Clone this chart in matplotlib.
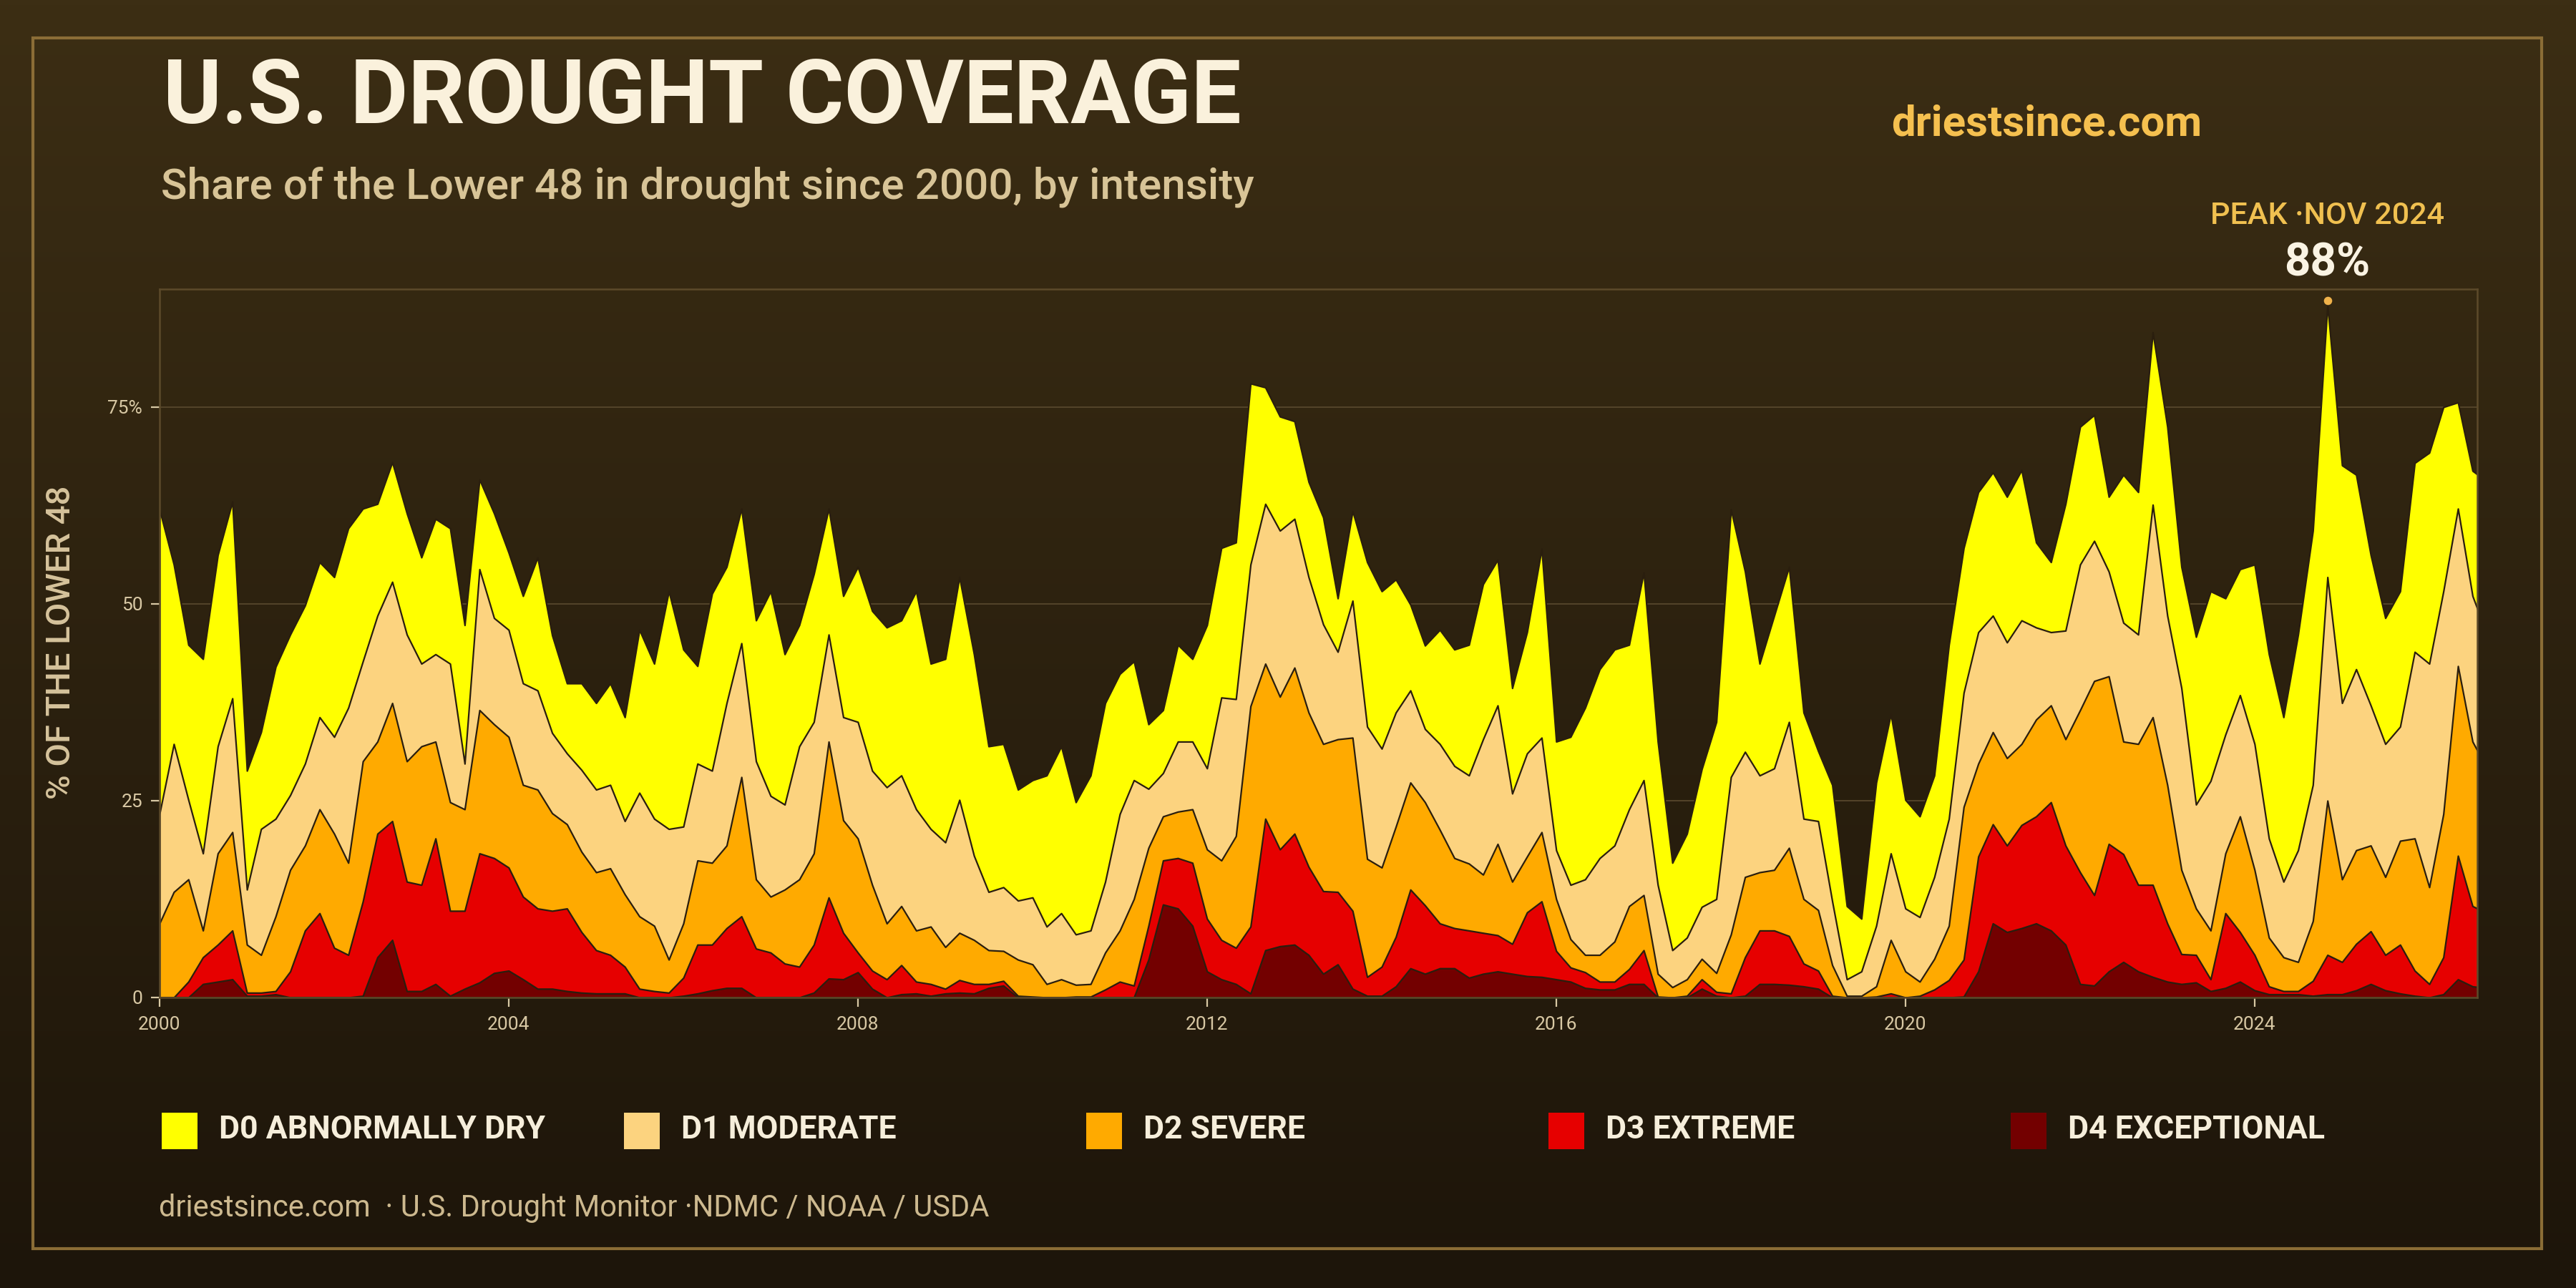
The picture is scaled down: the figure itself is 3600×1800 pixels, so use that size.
import numpy as np
import pandas as pd
import matplotlib
matplotlib.use("Agg")
import matplotlib.pyplot as plt
import matplotlib.dates as mdates
import matplotlib.transforms as mtransforms
from matplotlib.colors import LinearSegmentedColormap
from matplotlib.patches import Rectangle

plt.rcParams['font.family'] = ['Roboto', 'DejaVu Sans']

# ============================================
# data: share of Lower 48 (cumulative, % area), every 2 months from Jan 2000
# ============================================
dates = pd.date_range("2000-01-01", periods=161, freq="2MS")

d0_d4 = [
    62, 55, 44.8, 43.0, 56.2, 63,          # 2000
    28.8, 33.7, 42, 46.1, 49.8, 55.3,      # 2001
    53.4, 59.6, 62.1, 62.7, 68, 61.5,      # 2002
    55.9, 60.8, 59.6, 47.3, 65.8, 61.5,    # 2003
    56.5, 51, 55.9, 46, 39.9, 39.9,        # 2004
    37.4, 39.9, 35.6, 46.7, 42.4, 51.6,    # 2005
    44.2, 42.1, 51.3, 54.7, 62.1, 47.9,    # 2006
    51.6, 43.6, 47.3, 53.8, 62.1, 51.0,    # 2007
    54.7, 49.1, 47.0, 47.9, 51.6, 42.4,    # 2008
    43, 53.4, 43.6, 31.9, 32.2, 26.4,      # 2009
    27.6, 28.2, 31.9, 24.8, 28.2, 37.4,    # 2010
    41.1, 42.7, 34.7, 36.5, 44.8, 43.0,    # 2011
    47.3, 57.1, 57.8, 78, 77.5, 73.8,      # 2012
    73.2, 65.5, 61, 50.7, 61.8, 55.3,      # 2013
    51.6, 53.1, 49.9, 44.7, 46.7, 44.2,    # 2014
    44.8, 52.5, 55.6, 39.3, 46.4, 57,      # 2015
    32.5, 33.1, 36.8, 41.7, 44.2, 44.8,    # 2016
    54, 32.5, 17.1, 20.8, 29, 35,          # 2017
    62, 54.1, 42.4, 48.5, 54.7, 36.2,      # 2018
    31.3, 27.0, 11.6, 10.0, 27.3, 36,      # 2019
    25.1, 23.0, 28.2, 44.8, 57.1, 64.2,    # 2020
    66.7, 63.6, 67.0, 57.8, 55.3, 62.7,    # 2021
    72.5, 74, 63.6, 66.4, 64.2, 84.5,      # 2022
    72.5, 54.7, 45.8, 51.6, 50.7, 54.4,    # 2023
    55.0, 43.6, 35.6, 46.1, 59.3, 88,      # 2024
    67.6, 66.4, 56.2, 48.2, 51.6, 67.9,    # 2025
    69.2, 75.0, 75.6, 66.9, 65.5,          # 2026
]

d1_d4 = [
    23.3, 32.2, 25.1, 18.3, 31.9, 38,
    13.7, 21.4, 22.7, 25.7, 29.7, 35.6,
    33.1, 36.8, 42.7, 48.5, 52.8, 46.1,
    42.4, 43.6, 42.4, 29.7, 54.4, 48.2,
    46.7, 39.9, 39.0, 33.6, 31.0, 28.9,
    26.4, 27.0, 22.4, 26.0, 22.7, 21.4,
    21.7, 29.7, 28.8, 37.4, 45, 30.0,
    25.6, 24.5, 31.9, 35.0, 46.1, 35.6,
    35.0, 28.8, 26.7, 28.2, 23.9, 21.4,
    19.7, 25.1, 18.0, 13.4, 14.0, 12.3,
    12.7, 9.0, 10.7, 8.0, 8.5, 14.7,
    23.3, 27.6, 26.5, 28.5, 32.5, 32.5,
    29.1, 38.1, 37.9, 55, 62.7, 59.3,
    60.8, 53.4, 47.4, 43.9, 50.4, 34.4,
    31.6, 36.2, 39.0, 34.1, 32.2, 29.4,
    28.2, 32.8, 37.1, 25.9, 31.0, 33,
    18.7, 14.3, 15.0, 17.7, 19.3, 23.9,
    27.6, 14.3, 6.0, 7.6, 11.5, 12.5,
    28, 31.2, 28.2, 29.1, 35.0, 22.7,
    22.4, 12.2, 2.3, 3.3, 9.1, 18.3,
    11.3, 10.2, 15.3, 22.7, 38.7, 46.4,
    48.5, 45.1, 47.9, 47.0, 46.4, 46.6,
    55.0, 58, 54.1, 47.6, 46.1, 62.6,
    48.5, 39.3, 24.5, 27.5, 33.4, 38.4,
    32.2, 20.2, 14.7, 18.7, 27.0, 53.4,
    37.4, 41.7, 37.1, 32.2, 34.4, 43.9,
    42.4, 51.6, 62.1, 51.0, 46,
]

d2_d4 = [
    9.4, 13.4, 15.0, 8.5, 18.3, 21,
    6.7, 5.4, 10.3, 16.2, 19.3, 23.9,
    20.8, 17.1, 30.0, 32.5, 37.4, 30.0,
    31.9, 32.5, 24.8, 23.9, 36.5, 34.7,
    33.1, 27.0, 26.4, 23.4, 22.0, 18.5,
    15.9, 16.4, 13.1, 10.3, 9.1, 4.8,
    9.4, 17.4, 17.1, 19.3, 28, 15.0,
    12.8, 13.7, 15.0, 18.3, 32.5, 22.5,
    20.2, 14.3, 9.4, 11.6, 8.5, 9.0,
    6.4, 8.2, 7.3, 6.0, 5.9, 4.8,
    4.2, 1.7, 2.3, 1.6, 1.7, 5.7,
    8.5, 12.5, 19.0, 23.0, 23.6, 23.9,
    18.8, 17.4, 20.5, 37, 42.4, 38.2,
    41.9, 36.2, 32.2, 32.8, 33.0, 17.6,
    16.5, 21.7, 27.3, 24.8, 21.3, 17.7,
    17.0, 15.6, 19.5, 14.7, 17.9, 21,
    12.5, 7.4, 5.4, 5.4, 7.1, 11.6,
    13, 3.0, 1.3, 2.3, 4.9, 3.1,
    8, 15.3, 15.9, 16.2, 19.0, 12.5,
    11.1, 4.1, 0.2, 0.2, 1.4, 7.3,
    3.3, 2.0, 4.9, 9.1, 24.2, 29.7,
    33.7, 30.4, 32.2, 35.3, 37.1, 32.8,
    36.5, 40.2, 40.8, 32.5, 32.2, 35.6,
    27.0, 16.2, 11.3, 8.5, 18.3, 23.0,
    16.2, 7.6, 5.1, 4.5, 9.7, 25,
    15.0, 18.7, 19.3, 15.3, 19.9, 20.2,
    14.0, 23.3, 42.1, 32.5, 29,
]

d3_d4 = [
    0, 0, 2.0, 5.1, 6.7, 8.5,
    0.6, 0.6, 0.8, 3.3, 8.5, 10.7,
    6.3, 5.4, 12.2, 20.8, 22.4, 14.7,
    14.3, 20.2, 11.0, 11.0, 18.3, 17.7,
    16.5, 12.8, 11.3, 11.0, 11.3, 8.3,
    6.0, 5.4, 3.9, 1.1, 0.8, 0.6,
    2.5, 6.7, 6.7, 8.8, 10.3, 6.2,
    5.7, 4.3, 3.9, 6.7, 12.7, 8.2,
    5.7, 3.4, 2.3, 4.1, 2.0, 1.7,
    1.1, 2.2, 1.7, 1.7, 2.1, 0.2,
    0.1, 0, 0, 0.1, 0.1, 1.0,
    2.0, 1.5, 9.1, 17.4, 17.7, 17.1,
    10.0, 7.3, 6.3, 9, 22.7, 18.8,
    20.8, 16.6, 13.5, 13.4, 11.0, 2.6,
    3.9, 7.7, 13.7, 11.7, 9.4, 8.8,
    8.5, 8.2, 7.9, 6.8, 10.8, 12.2,
    5.9, 3.8, 3.2, 2.0, 2.0, 3.6,
    6, 0.1, 0, 0.2, 2.3, 0.7,
    0.5, 5.1, 8.5, 8.5, 7.8, 4.3,
    3.4, 0.2, 0, 0, 0.1, 0.5,
    0, 0.2, 1.0, 2.2, 4.8, 17.9,
    22.0, 19.3, 21.9, 23.0, 24.8, 19.3,
    15.9, 13, 19.5, 18.2, 14.3, 14.3,
    9.4, 5.5, 5.4, 2.3, 10.7, 8.3,
    5.4, 1.4, 0.8, 0.8, 2.1, 5.4,
    4.5, 6.8, 8.4, 5.4, 6.7, 3.4,
    1.7, 5.1, 18.0, 11.6, 10.7,
]

d4 = [
    0, 0, 0, 1.7, 2.0, 2.3,
    0.2, 0.2, 0.4, 0, 0, 0,
    0, 0, 0.2, 5.1, 7.3, 0.8,
    0.8, 1.7, 0.2, 1.1, 1.9, 3.1,
    3.4, 2.3, 1.1, 1.1, 0.8, 0.6,
    0.5, 0.5, 0.5, 0, 0, 0,
    0.2, 0.5, 0.9, 1.2, 1.2, 0,
    0, 0, 0, 0.6, 2.4, 2.3,
    3.2, 1.1, 0, 0.4, 0.5, 0.2,
    0.5, 0.6, 0.5, 1.2, 1.5, 0,
    0, 0, 0, 0, 0, 0,
    0, 0, 4.8, 11.8, 11.3, 9.1,
    3.3, 2.3, 1.7, 0.5, 6.0, 6.5,
    6.7, 5.4, 3.0, 4.2, 1.1, 0.2,
    0.2, 1.4, 3.7, 3.0, 3.7, 3.7,
    2.5, 3.0, 3.3, 3.0, 2.7, 2.6,
    2.3, 2.0, 1.2, 1.0, 1.0, 1.7,
    1.7, 0, 0, 0, 1.1, 0.2,
    0, 0.2, 1.7, 1.7, 1.6, 1.4,
    1.1, 0, 0, 0, 0, 0,
    0, 0, 0, 0, 0.1, 3.3,
    9.4, 8.3, 8.8, 9.4, 8.5, 6.7,
    1.7, 1.5, 3.3, 4.5, 3.3, 2.6,
    2.0, 1.7, 1.9, 0.8, 1.2, 2.0,
    0.9, 0.4, 0.4, 0.4, 0.2, 0.4,
    0.4, 0.9, 1.7, 0.9, 0.5, 0.2,
    0, 0.4, 2.3, 1.4, 1.2,
]

series = [d0_d4, d1_d4, d2_d4, d3_d4, d4]
labels = ["D0 ABNORMALLY DRY", "D1 MODERATE", "D2 SEVERE", "D3 EXTREME", "D4 EXCEPTIONAL"]
colors = ["#ffff00", "#fcd37f", "#ffaa00", "#e60000", "#730000"]

y_ticks = [0, 25, 50, 75]
y_ticklabels = ["0", "25", "50", "75%"]

# ============================================
# figure
# ============================================
fig = plt.figure(figsize=(18, 9), dpi=200)

bg = fig.add_axes([0, 0, 1, 1], zorder=-10)
cmap = LinearSegmentedColormap.from_list("bg", ["#3c2e14", "#1d150a"])
bg.imshow(np.linspace(0, 1, 256).reshape(-1, 1), cmap=cmap, aspect="auto", extent=[0, 1, 0, 1])
bg.axis("off")

fig.add_artist(Rectangle((0.0128, 0.0306), 0.9739, 0.94, transform=fig.transFigure,
                         fill=False, ec="#8b6d36", lw=1.5))

ax = fig.add_axes([0.0619, 0.2256, 0.8997, 0.55])
ax.set_facecolor("none")

for vals, col in zip(series, colors):
    ax.fill_between(dates, 0, np.array(vals, dtype=float), facecolor=col,
                    edgecolor="#2a1e0e", lw=0.8, zorder=2)

ax.set_ylim(0, 90)
ax.set_xlim(pd.Timestamp("2000-01-01"), pd.Timestamp("2026-07-20"))
ax.set_yticks(y_ticks)
ax.set_yticklabels(y_ticklabels)
ax.xaxis.set_major_locator(mdates.YearLocator(4))
ax.xaxis.set_major_formatter(mdates.DateFormatter("%Y"))
ax.grid(True, axis="y", color="#54442a", lw=0.7, zorder=0)
ax.grid(False, axis="x")
ax.set_axisbelow(True)
for s in ax.spines.values():
    s.set_color("#5c4a2a")
    s.set_linewidth(0.9)
ax.tick_params(colors="#d8c8a4", labelsize=9.5, length=4.5, width=0.8, pad=4)
ax.tick_params(axis="x", pad=5)
for lab in ax.get_xticklabels() + ax.get_yticklabels():
    lab.set_color("#d8c8a4")

# peak marker
d0 = np.array(d0_d4)
ip = int(np.argmax(d0))
peak_date = dates[ip]
ax.scatter([peak_date], [d0[ip] + 0.5], s=10, color="#f0b24a", zorder=5, clip_on=False)
tr = mtransforms.blended_transform_factory(ax.transData, fig.transFigure)
ax.text(peak_date, 1 - 313 / 1800, f"PEAK ·{peak_date:%b %Y}".upper(), transform=tr,
        ha="center", va="baseline", fontsize=15.5, fontweight="medium", color="#f0c050")
ax.text(peak_date, 1 - 385 / 1800, f"{d0[ip]:.0f}%", transform=tr,
        ha="center", va="baseline", fontsize=23, fontweight="bold", color="#faf3e3")

# titles
fig.text(228 / 3600, 1 - 172 / 1800, "U.S. DROUGHT COVERAGE", fontsize=44.8, fontweight="bold",
         color="#faf1dc", ha="left", va="baseline")
fig.text(225 / 3600, 1 - 278 / 1800, "Share of the Lower 48 in drought since 2000, by intensity",
         fontsize=21.7, fontweight="medium", color="#d8c497", ha="left", va="baseline")
fig.text(2643 / 3600, 1 - 189 / 1800, "driestsince.com", fontsize=21.6, fontweight="bold",
         color="#f5c04f", ha="left", va="baseline")
fig.text(85 / 3600, 0.501, "% OF THE LOWER 48", rotation=90, fontsize=17, fontweight="medium",
         color="#d6c39c", ha="center", va="center")

# legend
for i, (lab, col) in enumerate(zip(labels, colors)):
    x0 = (226 + i * 646) / 3600
    fig.add_artist(Rectangle((x0, 1 - 1606 / 1800), 50 / 3600, 51 / 1800,
                             transform=fig.transFigure, fc=col, ec="none"))
    fig.text((306 + i * 646) / 3600, 1 - 1591 / 1800, lab, fontsize=16, fontweight="bold",
             color="#f6eedb", ha="left", va="baseline")

fig.text(222 / 3600, 1 - 1700 / 1800, "driestsince.com  · U.S. Drought Monitor ·NDMC / NOAA / USDA",
         fontsize=15, color="#cdb98f", ha="left", va="baseline")

fig.savefig("out.png", dpi=200)
